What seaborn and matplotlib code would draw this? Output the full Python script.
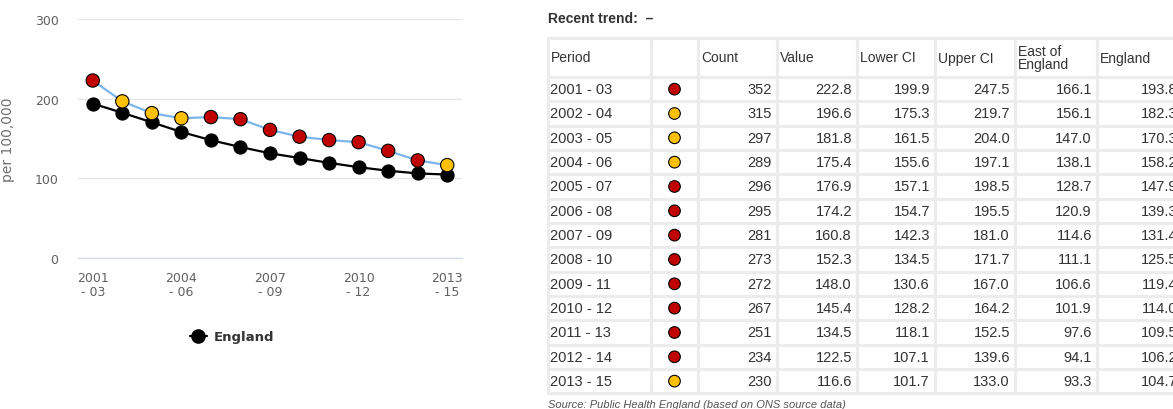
import matplotlib
matplotlib.use("Agg")
import matplotlib.pyplot as plt
import seaborn as sns
import pandas as pd
from matplotlib.patches import Rectangle
from matplotlib.lines import Line2D

# data
PERIODS = ['2001 - 03', '2002 - 04', '2003 - 05', '2004 - 06', '2005 - 07', '2006 - 08', '2007 - 09',
           '2008 - 10', '2009 - 11', '2010 - 12', '2011 - 13', '2012 - 14', '2013 - 15']
COUNT = [352, 315, 297, 289, 296, 295, 281, 273, 272, 267, 251, 234, 230]
VALUE = [222.8, 196.6, 181.8, 175.4, 176.9, 174.2, 160.8, 152.3, 148.0, 145.4, 134.5, 122.5, 116.6]
LOWER_CI = [199.9, 175.3, 161.5, 155.6, 157.1, 154.7, 142.3, 134.5, 130.6, 128.2, 118.1, 107.1, 101.7]
UPPER_CI = [247.5, 219.7, 204.0, 197.1, 198.5, 195.5, 181.0, 171.7, 167.0, 164.2, 152.5, 139.6, 133.0]
EAST = [166.1, 156.1, 147.0, 138.1, 128.7, 120.9, 114.6, 111.1, 106.6, 101.9, 97.6, 94.1, 93.3]
ENGLAND = [193.8, 182.3, 170.3, 158.2, 147.9, 139.3, 131.4, 125.5, 119.4, 114.0, 109.5, 106.2, 104.7]
SIGNIF = ['worse', 'similar', 'similar', 'similar', 'worse', 'worse', 'worse',
          'worse', 'worse', 'worse', 'worse', 'worse', 'similar']
HEADERS = ['Period', '', 'Count', 'Value', 'Lower CI', 'Upper CI', 'East of\nEngland', 'England']
Y_TICKS = [0, 100, 200, 300]

SIG_COLORS = {'worse': '#c00000', 'similar': '#ffc000'}
TEXT = '#333333'

sns.set_style('white')
plt.rcParams['font.family'] = ['DejaVu Sans']

df = pd.DataFrame({'period': PERIODS, 'pos': range(len(PERIODS)), 'value': VALUE,
                   'england': ENGLAND, 'signif': SIGNIF})

fig = plt.figure(figsize=(11.73, 4.10), dpi=100)

# ---- chart ----
ax = fig.add_axes([78 / 1173, 1 - 259 / 410, 384 / 1173, 239 / 410])
sns.lineplot(data=df, x='pos', y='value', color='#7cb5ec', lw=1.6, ax=ax, zorder=2)
sns.lineplot(data=df, x='pos', y='england', color='black', lw=1.6, ax=ax, zorder=3,
             marker='o', markersize=9.5, markeredgecolor='black', markerfacecolor='black')
sns.scatterplot(data=df, x='pos', y='value', hue='signif', palette=SIG_COLORS, s=92,
                edgecolor='black', linewidth=0.8, ax=ax, zorder=4, legend=False)

ax.set_xlim(-0.5, len(PERIODS) - 0.5)
ax.set_ylim(0, 300)
ax.set_yticks(Y_TICKS)
ax.set_xticks(range(len(PERIODS)))
ax.set_xticklabels([p.replace(' - ', '\n- ') if i % 3 == 0 else '' for i, p in enumerate(PERIODS)])
ax.grid(axis='y', color='#e6e6e6', lw=1)
ax.set_axisbelow(True)
for s in ['top', 'right', 'left']:
    ax.spines[s].set_visible(False)
ax.spines['bottom'].set_color('#ccd6eb')
ax.tick_params(axis='x', length=5, color='#ccd6eb', labelsize=9, labelcolor='#606060', pad=4)
ax.tick_params(axis='y', length=0, labelsize=9, labelcolor='#606060', pad=14)
ax.set_xlabel('')
ax.set_ylabel('per 100,000', fontsize=10, color='#707070')
ax.yaxis.set_label_coords(-0.165, 0.5)

handle = Line2D([], [], color='black', lw=1.6, marker='o', markersize=9.5)
leg = ax.legend([handle], ['England'], loc='center', bbox_to_anchor=(232 / 1173, 1 - 338 / 410),
                bbox_transform=fig.transFigure, frameon=False, handlelength=1.3, handletextpad=0.5,
                prop={'weight': 'bold', 'size': 9.5})
for t in leg.get_texts():
    t.set_color(TEXT)

# ---- table ----
tx = fig.add_axes([0, 0, 1, 1], zorder=-1)
tx.set_xlim(0, 1173)
tx.set_ylim(410, 0)
tx.axis('off')

col_edges = [548, 651, 698, 777, 857, 935, 1015, 1097, 1182]
row_edges = [39, 78] + [78 + 24.33 * (i + 1) for i in range(len(PERIODS))]
TF = 'Liberation Sans'

tx.text(548, 19, 'Recent trend:  \u2013', fontsize=10, fontweight='bold', color=TEXT, family=TF,
        va='center', ha='left')

for r in range(len(row_edges) - 1):
    for c in range(len(col_edges) - 1):
        x0, x1 = col_edges[c], col_edges[c + 1]
        y0, y1 = row_edges[r], row_edges[r + 1]
        tx.add_patch(Rectangle((x0, y0), x1 - x0, y1 - y0, facecolor='white',
                               edgecolor='#ececec', lw=2.2))

for c, h in enumerate(HEADERS):
    tx.text(col_edges[c] + 3, (row_edges[0] + row_edges[1]) / 2, h, fontsize=10, color=TEXT,
            family=TF, va='center', ha='left', linespacing=1.0)

cols = [COUNT, VALUE, LOWER_CI, UPPER_CI, EAST, ENGLAND]
for i, p in enumerate(PERIODS):
    yc = (row_edges[i + 1] + row_edges[i + 2]) / 2
    tx.text(col_edges[0] + 2, yc, p, fontsize=10.5, color=TEXT, family=TF, va='center', ha='left')
    for k, vals in enumerate(cols):
        txt = str(vals[i]) if k == 0 else f'{vals[i]:.1f}'
        tx.text(col_edges[k + 3] - 5, yc, txt, fontsize=10.5, color=TEXT, family=TF,
                va='center', ha='right')

dot_y = [(row_edges[i + 1] + row_edges[i + 2]) / 2 for i in range(len(PERIODS))]
tx.scatter([674.5] * len(PERIODS), dot_y, s=70, c=[SIG_COLORS[s] for s in SIGNIF],
           edgecolors='black', linewidths=0.8, zorder=5)

tx.text(548, 405, 'Source: Public Health England (based on ONS source data)', fontsize=8,
        style='italic', color='#555555', family=TF, va='center', ha='left')

fig.savefig('out.png', dpi=100)
